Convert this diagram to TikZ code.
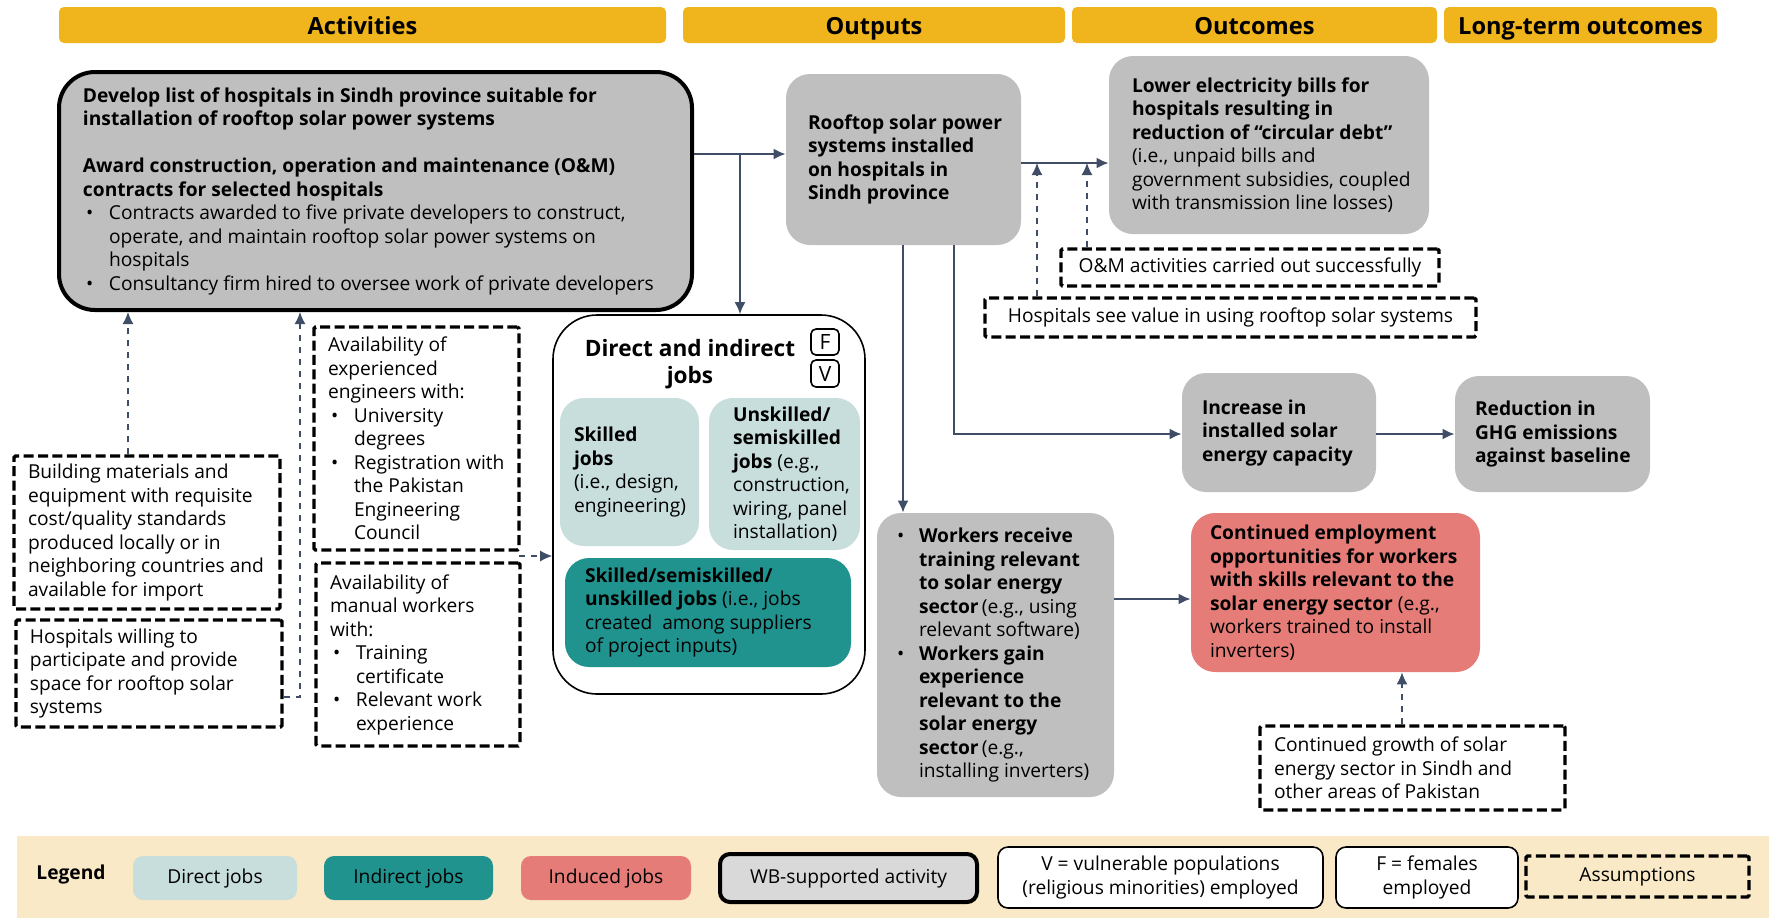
\documentclass[tikz,border=0pt]{standalone}
\usepackage{fontspec}
\setmainfont{Open Sans}
\usetikzlibrary{arrows.meta}

\definecolor{gold}{HTML}{F0B41C}
\definecolor{boxgray}{HTML}{BFBFBF}
\definecolor{ltgray}{HTML}{D9D9D9}
\definecolor{ltteal}{HTML}{C8DEDD}
\definecolor{teal}{HTML}{20938F}
\definecolor{induced}{HTML}{E57C78}
\definecolor{beige}{HTML}{F9E9C6}
\definecolor{linec}{HTML}{3F4E66}

% box from corner (x1,y1) to (x2,y2); text set flush left after a padding
\newcommand\bx[8]{%
  \pgfmathsetmacro\bw{(#5-#3)*0.5}%
  \pgfmathsetmacro\bh{(#6-#4)*0.5}%
  \pgfmathsetmacro\px{#7*0.5}%
  \node[#2, minimum width=\bw pt, minimum height=\bh pt, inner xsep=0pt]
    (#1) at ({(#3+#5)/2},{(#4+#6)/2})
    {\makebox[\bw pt][l]{\hspace*{\px pt}\parbox{500pt}{\raggedright #8}}};}

% box from corner (x1,y1) to (x2,y2) with centred text
\newcommand\bc[7]{%
  \pgfmathsetmacro\bw{(#5-#3)*0.5}%
  \pgfmathsetmacro\bh{(#6-#4)*0.5}%
  \node[#2, align=center, minimum width=\bw pt, minimum height=\bh pt, inner xsep=0pt]
    (#1) at ({(#3+#5)/2},{(#4+#6)/2}) {#7};}

\newcommand\bul{\hspace*{1.5pt}\makebox[11.5pt][l]{•}}
\newcommand\ind{\hspace*{13pt}}

\begin{document}
\begin{tikzpicture}[x=0.5pt,y=-0.5pt,
  base/.style={font=\fontsize{9.6}{11.75}\selectfont, inner ysep=0pt},
  hdr/.style={base, fill=gold, rounded corners=2.5pt, text height=10pt, text depth=1pt,
    font=\fontsize{11.8}{14}\selectfont\bfseries},
  graybox/.style={base, fill=boxgray, rounded corners=12pt},
  wbbox/.style={base, fill=boxgray, draw=black, line width=2pt, rounded corners=18pt},
  asm/.style={base, draw=black, line width=1.7pt, dash pattern=on 5pt off 2.2pt, rounded corners=0.8pt},
  directbox/.style={base, fill=ltteal, rounded corners=12pt},
  indirectbox/.style={base, fill=teal, rounded corners=12pt},
  inducedbox/.style={base, fill=induced, rounded corners=12pt},
  container/.style={base, draw=black, line width=0.8pt, rounded corners=22pt},
  tag/.style={base, draw=black, line width=0.8pt, rounded corners=2.5pt,
    font=\fontsize{10.5}{12}\selectfont},
  legbox/.style={base, rounded corners=5pt},
  arr/.style={draw=linec, line width=1pt, -{Latex[length=6pt,width=5.5pt]}},
  darr/.style={draw=linec, line width=0.7pt, dash pattern=on 3pt off 3pt,
    -{Latex[length=6pt,width=5.5pt]}}
]
\useasboundingbox (0,0) rectangle (1769,918);

% ---------- column headers ----------
\bc{hA}{hdr}{59}{7}{666}{43}{Activities}
\bc{hB}{hdr}{683}{7}{1065}{43}{Outputs}
\bc{hC}{hdr}{1072}{7}{1437}{43}{Outcomes}
\bc{hD}{hdr}{1444}{7}{1717}{43}{Long-term outcomes}

% ---------- activities ----------
\bx{act}{wbbox}{59}{72}{692}{310}{24}{%
  {\bfseries Develop list of hospitals in Sindh province suitable for\\
  installation of rooftop solar power systems}\\[11.75pt]
  {\bfseries Award construction, operation and maintenance (O\&M)\\
  contracts for selected hospitals}\\
  \bul Contracts awarded to five private developers to construct,\\
  \ind operate, and maintain rooftop solar power systems on\\
  \ind hospitals\\
  \bul Consultancy firm hired to oversee work of private developers}

% ---------- assumptions (left) ----------
\bx{bm}{asm}{14}{456}{280}{609}{14}{%
  Building materials and\\ equipment with requisite\\ cost/quality standards\\
  produced locally or in\\ neighboring countries and\\ available for import}
\bx{hw}{asm}{16}{620}{282}{727}{14}{%
  Hospitals willing to\\ participate and provide\\ space for rooftop solar\\ systems}
\bx{eng}{asm}{314}{327}{519}{550}{14}{%
  Availability of\\ experienced\\ engineers with:\\
  \bul University\\ \ind degrees\\
  \bul Registration with\\ \ind the Pakistan\\ \ind Engineering\\ \ind Council}
\bx{man}{asm}{316}{563}{520}{746}{14}{%
  Availability of\\ manual workers\\ with:\\
  \bul Training\\ \ind certificate\\
  \bul Relevant work\\ \ind experience}

% ---------- outputs ----------
\bx{roof}{graybox}{786}{74}{1021}{245}{22}{%
  \bfseries Rooftop solar power\\ systems installed\\ on hospitals in\\ Sindh province}

\bc{jobs}{container}{553}{315}{865}{694}{}
\node[base, align=center, font=\fontsize{11.3}{13.5}\selectfont\bfseries]
  (jobstitle) at (690,364) {Direct and indirect\\ jobs};
\bc{tagF}{tag}{811}{329}{839}{355}{F}
\bc{tagV}{tag}{811}{360}{839}{387}{V}
\bx{skl}{directbox}{560}{398}{699}{546}{14}{%
  {\bfseries Skilled\\ jobs}\\ (i.e., design,\\ engineering)}
\bx{uns}{directbox}{709}{398}{860}{550}{24}{%
  {\bfseries Unskilled/\\ semiskilled\\ jobs} (e.g.,\\ construction,\\ wiring, panel\\ installation)}
\bx{ind}{indirectbox}{565}{558}{851}{667}{20}{%
  {\bfseries Skilled/semiskilled/\\ unskilled jobs} (i.e., jobs\\
  created\ \ among suppliers\\ of project inputs)}

\bx{wk}{graybox}{877}{513}{1114}{797}{20}{%
  \makebox[11pt][l]{•}{\bfseries Workers receive}\\
  \hspace*{11pt}{\bfseries training relevant}\\
  \hspace*{11pt}{\bfseries to solar energy}\\
  \hspace*{11pt}{\bfseries sector}\,(e.g., using\\
  \hspace*{11pt}relevant software)\\
  \makebox[11pt][l]{•}{\bfseries Workers gain}\\
  \hspace*{11pt}{\bfseries experience}\\
  \hspace*{11pt}{\bfseries relevant to the}\\
  \hspace*{11pt}{\bfseries solar energy}\\
  \hspace*{11pt}{\bfseries sector}\,(e.g.,\\
  \hspace*{11pt}installing inverters)}

% ---------- outcomes ----------
\bx{lo}{graybox}{1109}{56}{1429}{234}{23}{%
  {\bfseries Lower electricity bills for\\ hospitals resulting in\\
  reduction of “circular debt”}\\ (i.e., unpaid bills and\\
  government subsidies, coupled\\ with transmission line losses)}
\bc{om}{asm}{1061}{249}{1439}{286}{O\&M activities carried out successfully}
\bc{hsv}{asm}{985}{298}{1476}{337}{Hospitals see value in using rooftop solar systems}

\bx{inc}{graybox}{1182}{373}{1376}{492}{20}{%
  \bfseries Increase in\\ installed solar\\ energy capacity}
\bx{ce}{inducedbox}{1191}{513}{1480}{672}{19}{%
  {\bfseries Continued employment\\ opportunities for workers\\ with skills relevant to the\\
  solar energy sector} (e.g.,\\ workers trained to install\\ inverters)}
\bx{gr}{asm}{1260}{726}{1565}{810}{14}{%
  Continued growth of solar\\ energy sector in Sindh and\\ other areas of Pakistan}

% ---------- long-term outcomes ----------
\bx{ghg}{graybox}{1455}{376}{1650}{492}{20}{%
  \bfseries Reduction in\\ GHG emissions\\ against baseline}

% ---------- connectors ----------
\coordinate (j1) at (740,154);
\draw[arr] (act.east |- j1) -- (roof.west |- j1);
\draw[arr] (j1) -- (jobs.north -| j1);

\coordinate (m1) at (1060,163);
\draw[arr] (roof.east |- m1) -- (lo.west |- m1);
\coordinate (d1) at (1037,163);
\coordinate (d2) at (1087,163);
\draw[darr] (hsv.north -| d1) -- (d1);
\draw[darr] (om.north -| d2) -- (d2);

\coordinate (v1) at (903,400);
\draw[arr] (roof.south -| v1) -- (wk.north -| v1);
\coordinate (v2) at (954,434);
\draw[arr] (roof.south -| v2) -- (v2) -- (inc.west |- v2);
\draw[arr] (inc.east |- ghg.west) -- (ghg.west);

\coordinate (w1) at (1000,599);
\draw[arr] (wk.east |- w1) -- (ce.west |- w1);
\coordinate (g1) at (1402,700);
\draw[darr] (gr.north -| g1) -- (ce.south -| g1);

\coordinate (b1) at (128,400);
\draw[darr] (bm.north -| b1) -- (act.south -| b1);
\coordinate (h1) at (300,697);
\draw[darr] (hw.east |- h1) -- (h1) -- (act.south -| h1);
\coordinate (e1) at (519,556);
\draw[darr] (e1) -- (jobs.west |- e1);

% ---------- legend ----------
\bc{lg}{base, fill=beige}{17}{836}{1769}{918}{}
\node[base, font=\fontsize{9.6}{11.75}\selectfont\bfseries] (lgt) at (71,874) {Legend};
\bc{lgD}{legbox, fill=ltteal}{133}{856}{297}{900}{Direct jobs}
\bc{lgI}{legbox, fill=teal}{324}{856}{493}{900}{Indirect jobs}
\bc{lgN}{legbox, fill=induced}{521}{856}{691}{900}{Induced jobs}
\bc{lgW}{legbox, fill=ltgray, draw=black, line width=2pt}{720}{854}{977}{902}{WB-supported activity}
\bc{lgV}{legbox, fill=white, draw=black, line width=0.8pt}{998}{847}{1323}{908}{%
  V = vulnerable populations\\ (religious minorities) employed}
\bc{lgF}{legbox, fill=white, draw=black, line width=0.8pt}{1336}{847}{1518}{908}{%
  F = females\\ employed}
\bc{lgA}{asm}{1526}{856}{1749}{897}{Assumptions}
\end{tikzpicture}
\end{document}
